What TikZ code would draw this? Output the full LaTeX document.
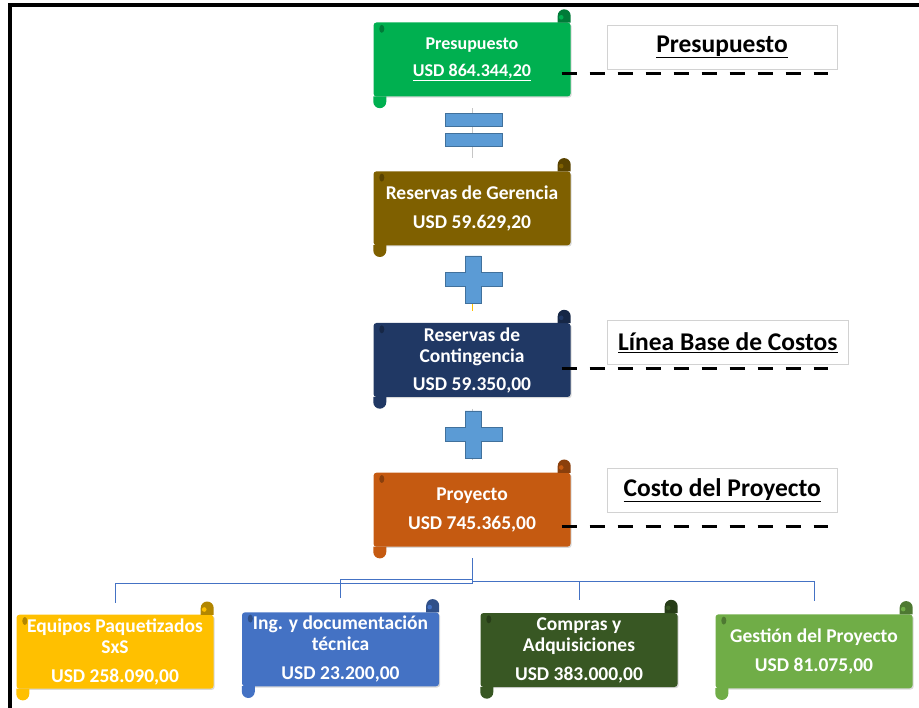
\documentclass[tikz,border=0pt]{standalone}
\usepackage{fontspec}
\setmainfont{Carlito}
\usepackage{tikz}
\usetikzlibrary{shadows}

\definecolor{presgreen}{HTML}{00B050}
\definecolor{gerbrown}{HTML}{7F6000}
\definecolor{contnavy}{HTML}{203864}
\definecolor{proyorange}{HTML}{C55A11}
\definecolor{eqyellow}{HTML}{FFC000}
\definecolor{ingblue}{HTML}{4472C4}
\definecolor{compgreen}{HTML}{385723}
\definecolor{gestgreen}{HTML}{70AD47}
\definecolor{signblue}{HTML}{5B9BD5}
\definecolor{signedge}{HTML}{41719C}

% rolled ends of a scroll box: #1 node, #2 colour
\newcommand{\scrolltabs}[2]{%
  \fill[#2!70!black] ([xshift=-13pt,yshift=-0.3pt]#1.north east) -- ++(0pt,6.8pt)
    arc[start angle=180, end angle=0, radius=6.5pt] -- ([yshift=-0.3pt]#1.north east) -- cycle;
  \fill[#2] ([xshift=-9.5pt,yshift=5pt]#1.north east) circle (2.3pt);
  \fill[#2!70!black] ([xshift=8.5pt,yshift=-6.5pt]#1.north west) ellipse (2.5pt and 4pt);
  \fill[#2] ([yshift=0.3pt]#1.south west) -- ++(0pt,-5.3pt)
    arc[start angle=180, end angle=360, radius=6.5pt] -- ([xshift=13pt,yshift=0.3pt]#1.south west) -- cycle;
}

\begin{document}
\begin{tikzpicture}[x=1pt, y=-1pt,
    scroll/.style={rectangle, fill=#1, rounded corners=3pt, minimum width=197pt, minimum height=74pt,
      inner sep=0pt, text=white, align=center, font=\bfseries\fontsize{19.5}{21}\selectfont,
      drop shadow={shadow xshift=1.2pt, shadow yshift=-1.2pt, opacity=0.3}},
    tagbox/.style={draw=gray!35, line width=0.8pt, fill=white, inner sep=0pt,
      font=\bfseries\fontsize{25.5}{28}\selectfont},
    cutline/.style={line width=3.3pt, dash pattern=on 15.5pt off 12.5pt},
    link/.style={line width=0.9pt},
    branch/.style={draw=ingblue, line width=0.8pt},
    signpart/.style={fill=signblue, draw=signedge, line width=0.6pt}]
  \useasboundingbox (0,0) rectangle (919,708);

  % stacked budget boxes
  \node[scroll=presgreen, font=\bfseries\fontsize{18}{20}\selectfont] (Pres) at (472,59.5)
    {Presupuesto\\[7pt]\underline{USD 864.344,20}};
  \node[scroll=gerbrown] (Ger) at (472,208.3) {Reservas de Gerencia\\[8pt]USD 59.629,20};
  \node[scroll=contnavy] (Cont) at (472,360) {Reservas de\\Contingencia\\[7pt]USD 59.350,00};
  \node[scroll=proyorange] (Proy) at (472,509.7) {Proyecto\\[8pt]USD 745.365,00};
  \scrolltabs{Pres}{presgreen}
  \scrolltabs{Ger}{gerbrown}
  \scrolltabs{Cont}{contnavy}
  \scrolltabs{Proy}{proyorange}

  % work packages
  \node[scroll=eqyellow] (Eq) at (115,651.7) {Equipos Paquetizados\\SxS\\[8pt]USD 258.090,00};
  \node[scroll=ingblue] (Ing) at (340.5,649.3) {Ing. y documentación\\técnica\\[8pt]USD 23.200,00};
  \node[scroll=compgreen] (Comp) at (579,650) {Compras y\\Adquisiciones\\[8pt]USD 383.000,00};
  \node[scroll=gestgreen] (Gest) at (814,651.3) {Gestión del Proyecto\\[8pt]USD 81.075,00};
  \scrolltabs{Eq}{eqyellow}
  \scrolltabs{Ing}{ingblue}
  \scrolltabs{Comp}{compgreen}
  \scrolltabs{Gest}{gestgreen}

  % links between the stacked boxes
  \draw[link, gray!45] ([yshift=-11.5pt]Pres.south) -- ([yshift=13.5pt]Ger.north);
  \draw[link, eqyellow] ([yshift=-11.5pt]Ger.south) -- ([yshift=12pt]Cont.north);
  \draw[link, gray!45] ([yshift=-11.5pt]Cont.south) -- ([yshift=12pt]Proy.north);

  % = and + signs
  \filldraw[signpart] (445,113.3) rectangle (502,126.7);
  \filldraw[signpart] (445,133.3) rectangle (502,146.7);
  \filldraw[signpart] (465,256) -- (481,256) -- (481,272.3) -- (502,272.3) -- (502,286.7) -- (481,286.7)
    -- (481,303.3) -- (465,303.3) -- (465,286.7) -- (445,286.7) -- (445,272.3) -- (465,272.3) -- cycle;
  \filldraw[signpart, shift={(0,155)}] (465,256) -- (481,256) -- (481,272.3) -- (502,272.3) -- (502,286.7) -- (481,286.7)
    -- (481,303.3) -- (465,303.3) -- (465,286.7) -- (445,286.7) -- (445,272.3) -- (465,272.3) -- cycle;

  % tree to the work packages
  \draw[branch] ([yshift=-11.5pt]Proy.south) -- ++(0,25.3) -| ([yshift=12pt]Eq.north);
  \draw[branch] ([yshift=-11.5pt]Proy.south) -- ++(0,21.3) -| ([yshift=13.7pt]Ing.north);
  \draw[branch] ([yshift=-11.5pt]Proy.south) -- ++(0,23) -| ([yshift=12.6pt]Comp.north);
  \draw[branch] ([yshift=-11.5pt]Proy.south) -- ++(0,23) -| ([yshift=13.3pt]Gest.north);

  % right-hand tags
  \node[tagbox, minimum width=230pt, minimum height=44pt] (LP) at (722,47) {\underline{Presupuesto}};
  \node[tagbox, minimum width=241pt, minimum height=43.3pt] (LB) at (727.8,342.3) {\underline{Línea Base de Costos}};
  \node[tagbox, minimum width=230pt, minimum height=44pt] (LC) at (722.3,490.3) {\underline{Costo del Proyecto}};

  \coordinate (PresEnd) at (828,73.3);
  \coordinate (ContEnd) at (828,368.3);
  \coordinate (ProyEnd) at (828,526.7);
  \draw[cutline] ([xshift=-9pt,yshift=-13.8pt]Pres.east) -- (PresEnd);
  \draw[cutline] ([xshift=-9pt,yshift=-8.3pt]Cont.east) -- (ContEnd);
  \draw[cutline] ([xshift=-9pt,yshift=-17pt]Proy.east) -- (ProyEnd);

  % frame
  \draw[line width=4pt] (10.3,708) -- (10.3,5.3) -- (919,5.3);
\end{tikzpicture}
\end{document}
